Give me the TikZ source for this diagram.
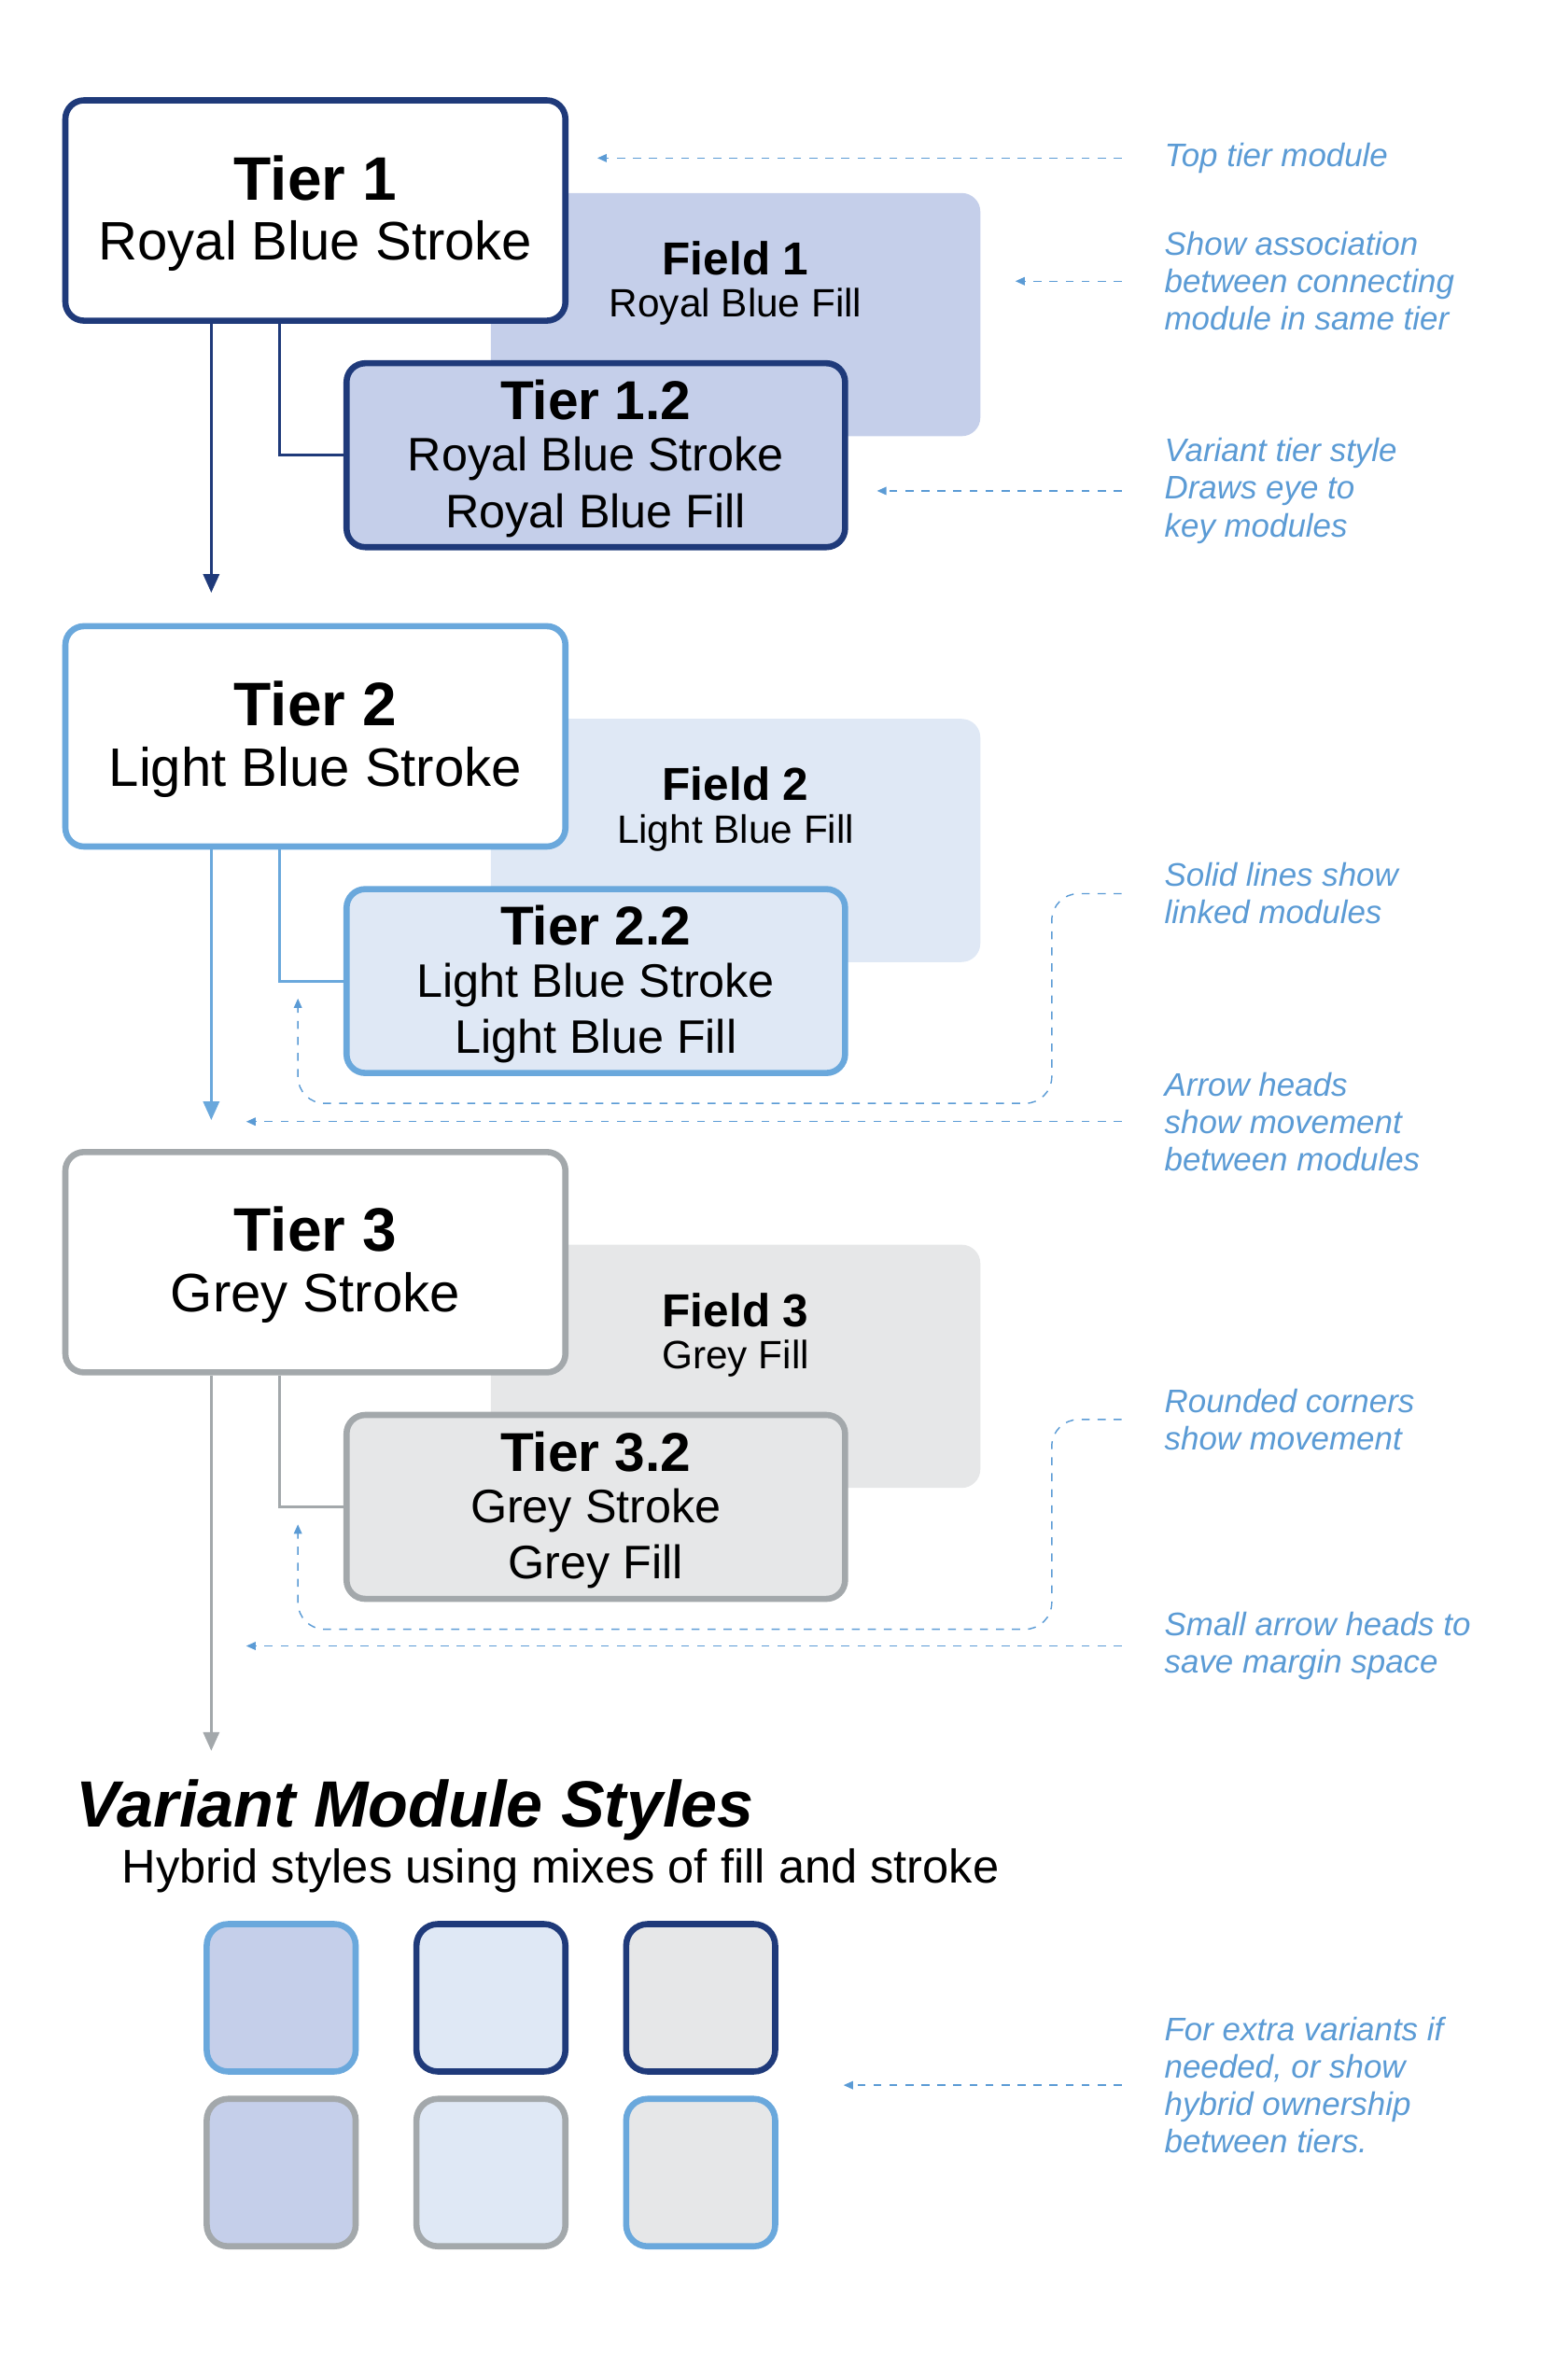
\documentclass[tikz,border=0pt]{standalone}
\usepackage{fontspec}
\setmainfont{Liberation Sans}
\usepackage{xcolor}
\usetikzlibrary{arrows.meta,positioning,calc}

\definecolor{royal}{HTML}{1F3A7A}
\definecolor{royalfill}{HTML}{C5CFEA}
\definecolor{lightb}{HTML}{6AA8DC}
\definecolor{lightfill}{HTML}{DFE8F5}
\definecolor{greys}{HTML}{A3A8AB}
\definecolor{greyfill}{HTML}{E6E7E8}
\definecolor{notec}{HTML}{5B9BD5}

\tikzset{
  tier/.style={line width=2.3pt, rounded corners=7pt, fill=white,
    minimum width=329*0.02cm, minimum height=145*0.02cm, align=center, inner sep=0pt},
  subtier/.style={line width=2.3pt, rounded corners=7pt,
    minimum width=328*0.02cm, minimum height=121*0.02cm, align=center, inner sep=0pt},
  field/.style={rounded corners=7pt, minimum width=322*0.02cm, minimum height=160*0.02cm, inner sep=0pt},
  swatch/.style={line width=2.3pt, rounded corners=8pt,
    minimum width=98*0.02cm, minimum height=97*0.02cm, inner sep=0pt},
  note/.style={anchor=west, align=left, text=notec, font=\fontsize{12.2}{14}\selectfont\itshape},
  noteline/.style={notec, dashed, dash pattern=on 3pt off 3pt, line width=0.5pt,
    -{Triangle[length=3.5pt,width=3pt]}},
  link/.style={line width=1pt, -{Triangle[length=7pt,width=6pt]}},
  tiert/.style={font=\fontsize{23}{27}\selectfont\bfseries},
  tiers/.style={font=\fontsize{20.3}{24}\selectfont},
  fieldt/.style={font=\fontsize{17.3}{20}\selectfont\bfseries},
  fields/.style={font=\fontsize{14.8}{17}\selectfont},
  subt/.style={font=\fontsize{20.5}{24}\selectfont\bfseries},
  subs/.style={font=\fontsize{17.6}{21}\selectfont},
}

\begin{document}
\begin{tikzpicture}[x=0.02cm, y=-0.02cm]
        \useasboundingbox (0,0) rectangle (1014,1566);

        % Tier 1
        \node[field, fill=royalfill] (f1) at (484,207) {};
        \node[tier, draw=royal] (t1) at (207.5,138.5) {};
        \node[tiert] at (207.5,117) {Tier 1};
        \node[tiers] at (207.5,162) {Royal Blue Stroke};
        \node[fieldt] at (484,170) {Field 1};
        \node[fields] at (484,202) {Royal Blue Fill};
        \node[subtier, draw=royal, fill=royalfill] (t12) at (392,299.5) {};
        \node[subt] at (392,263) {Tier 1.2};
        \node[subs] at (392,302) {Royal Blue Stroke};
        \node[subs] at (392,339) {Royal Blue Fill};
        \coordinate (a1) at (139,390);
        \draw[royal, line width=1pt] (t1.south -| 184,0) |- (t12.west);
        \draw[royal, link] (t1.south -| 139,0) -- (a1);

        % Tier 2
        \node[field, fill=lightfill] (f2) at (484,553) {};
        \node[tier, draw=lightb] (t2) at (207.5,484.5) {};
        \node[tiert] at (207.5,463) {Tier 2};
        \node[tiers] at (207.5,508) {Light Blue Stroke};
        \node[fieldt] at (484,516) {Field 2};
        \node[fields] at (484,548) {Light Blue Fill};
        \node[subtier, draw=lightb, fill=lightfill] (t22) at (392,645.5) {};
        \node[subt] at (392,609) {Tier 2.2};
        \node[subs] at (392,648) {Light Blue Stroke};
        \node[subs] at (392,685) {Light Blue Fill};
        \coordinate (a2) at (139,737);
        \draw[lightb, line width=1pt] (t2.south -| 184,0) |- (t22.west);
        \draw[lightb, link] (t2.south -| 139,0) -- (a2);

        % Tier 3
        \node[field, fill=greyfill] (f3) at (484,899) {};
        \node[tier, draw=greys] (t3) at (207.5,830.5) {};
        \node[tiert] at (207.5,809) {Tier 3};
        \node[tiers] at (207.5,854) {Grey Stroke};
        \node[fieldt] at (484,862) {Field 3};
        \node[fields] at (484,894) {Grey Fill};
        \node[subtier, draw=greys, fill=greyfill] (t32) at (392,991.5) {};
        \node[subt] at (392,955) {Tier 3.2};
        \node[subs] at (392,994) {Grey Stroke};
        \node[subs] at (392,1031) {Grey Fill};
        \coordinate (a3) at (139,1152);
        \draw[greys, line width=1pt] (t3.south -| 184,0) |- (t32.west);
        \draw[greys, link] (t3.south -| 139,0) -- (a3);

        % Notes
        \node[note] (n1) at (760,104) {Top tier module};
        \node[note] (n2) at (760,185) {Show association\\between connecting\\module in same tier};
        \node[note] (n3) at (760,323) {Variant tier style\\Draws eye to\\key modules};
        \node[note] (n4) at (760,588) {Solid lines show\\linked modules};
        \node[note] (n5) at (760,738) {Arrow heads\\show movement\\between modules};
        \node[note] (n6) at (760,934) {Rounded corners\\show movement};
        \node[note] (n7) at (760,1083) {Small arrow heads to\\save margin space};
        \node[note] (n8) at (760,1372) {For extra variants if\\needed, or show\\hybrid ownership\\between tiers.};

        \coordinate (p1) at (393,104);
        \coordinate (p2) at (668,185);
        \coordinate (p3) at (577,323);
        \coordinate (p4) at (196,657);
        \coordinate (p5) at (162,738);
        \coordinate (p6) at (196,1003);
        \coordinate (p7) at (162,1083);
        \coordinate (p8) at (555,1372);
        \draw[noteline] ($(n1.west)+(-22,0)$) -- (p1);
        \draw[noteline] ($(n2.west)+(-22,0)$) -- (p2);
        \draw[noteline] ($(n3.west)+(-22,0)$) -- (p3);
        \draw[noteline, rounded corners=10pt] ($(n4.west)+(-22,0)$) -- (692,588) -- (692,726) -- (196,726) -- (p4);
        \draw[noteline] ($(n5.west)+(-22,0)$) -- (p5);
        \draw[noteline, rounded corners=10pt] ($(n6.west)+(-22,0)$) -- (692,934) -- (692,1072) -- (196,1072) -- (p6);
        \draw[noteline] ($(n7.west)+(-22,0)$) -- (p7);
        \draw[noteline] ($(n8.west)+(-22,0)$) -- (p8);

        % Variant styles
        \node[anchor=west, font=\fontsize{24.5}{28}\selectfont\bfseries\itshape] (vt) at (44,1191) {Variant Module Styles};
        \node[anchor=west, font=\fontsize{17.7}{21}\selectfont] (vs) at (74,1231) {Hybrid styles using mixes of fill and stroke};
        \node[swatch, draw=lightb, fill=royalfill] (s11) at (185,1314.5) {};
        \node[swatch, draw=royal, fill=lightfill] (s12) at (323,1314.5) {};
        \node[swatch, draw=royal, fill=greyfill] (s13) at (461,1314.5) {};
        \node[swatch, draw=greys, fill=royalfill] (s21) at (185,1429.5) {};
        \node[swatch, draw=greys, fill=lightfill] (s22) at (323,1429.5) {};
        \node[swatch, draw=lightb, fill=greyfill] (s23) at (461,1429.5) {};
\end{tikzpicture}
\end{document}
